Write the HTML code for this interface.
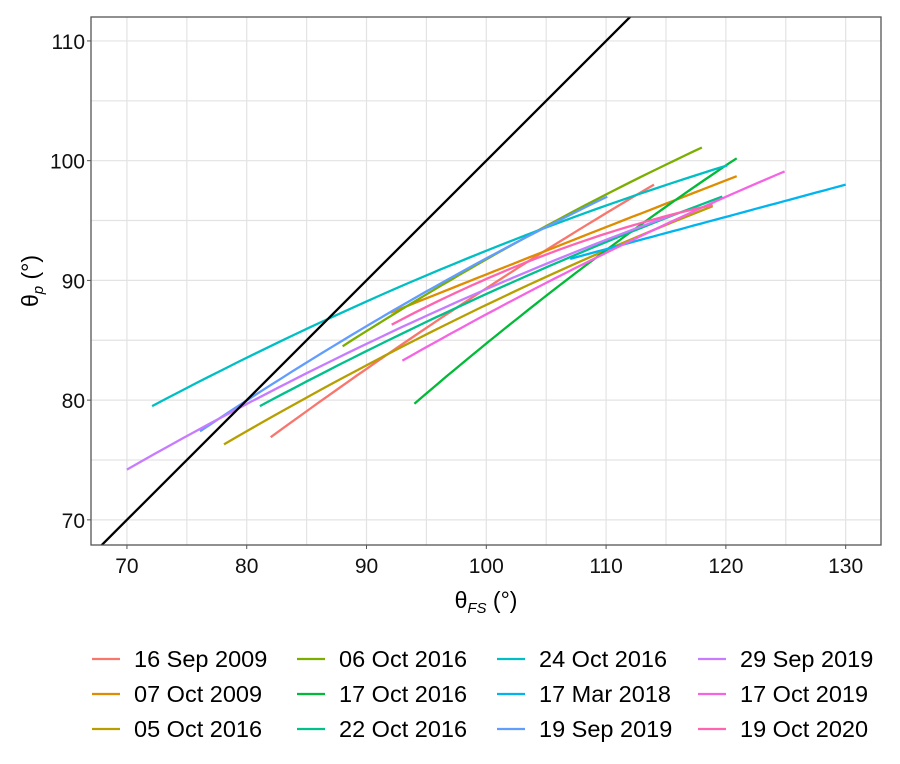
<!DOCTYPE html>
<html><head><meta charset="utf-8"><style>
body{margin:0;background:#fff;}
svg text{font-family:"Liberation Sans",sans-serif;}
</style></head><body>
<svg id="chart" width="900" height="759" viewBox="0 0 900 759" xmlns="http://www.w3.org/2000/svg">
<rect width="900" height="759" fill="#fff"/>
<g id="grid"></g>
<g id="series"></g>
<rect x="91" y="17" width="790" height="528" fill="none" stroke="#555" stroke-width="1.3"/>
<g id="axes"></g>
<text x="486" y="608" font-size="23" text-anchor="middle" fill="#000">θ<tspan font-size="15" font-style="italic" dy="5">FS</tspan><tspan dy="-5"> (°)</tspan></text>
<text transform="translate(38,281) rotate(-90)" font-size="23" text-anchor="middle" fill="#000">θ<tspan font-size="15" font-style="italic" dy="5">p</tspan><tspan dy="-5"> (°)</tspan></text>
<g id="legend"></g>
</svg>
<script>
const labels=["16 Sep 2009","07 Oct 2009","05 Oct 2016","06 Oct 2016","17 Oct 2016","22 Oct 2016","24 Oct 2016","17 Mar 2018","19 Sep 2019","29 Sep 2019","17 Oct 2019","19 Oct 2020"];
const colors=["#F8766D","#DE8C00","#B79F00","#7CAE00","#00BA38","#00C08B","#00BFC4","#00B4F0","#619CFF","#C77CFF","#F564E3","#FF64B0"];
const xStart=[82,92,78.1,88,94,81.1,72.1,107,76.1,70,93,92.1];
const xMid=[105.1,99.5,100.3,99.2,110.1,100.3,100.3,118.5,100.3,100.3,99.5,99.5];
const xEnd=[114,120.9,118.9,118,120.9,119.7,120.1,130,110.1,115.9,124.9,118.9];
const yStart=[76.9,87.3,76.3,84.5,79.7,79.5,79.5,91.8,77.4,74.2,83.3,86.3];
const yMid=[92.6,90.3,88.1,91.3,92.6,89.0,92.6,94.9,92.0,89.4,86.9,89.9];
const yEnd=[98.0,98.7,96.2,101.1,100.2,97.0,99.6,98.0,97.0,95.6,99.1,96.3];
const xTicks=[70,80,90,100,110,120,130];
const yTicks=[70,80,90,100,110];
const identityLine=[67,113];

const X0=91,X1=881,Y0=17,Y1=545;
const xMin=67.0,xMax=132.95,yMin=67.9,yMax=112.0;
const sx=v=>X0+(v-xMin)/(xMax-xMin)*(X1-X0);
const sy=v=>Y1-(v-yMin)/(yMax-yMin)*(Y1-Y0);
const NS="http://www.w3.org/2000/svg";
function mk(tag,attrs,parent){const e=document.createElementNS(NS,tag);for(const k in attrs)e.setAttribute(k,attrs[k]);parent.appendChild(e);return e;}
const grid=document.getElementById('grid'),axes=document.getElementById('axes'),ser=document.getElementById('series'),leg=document.getElementById('legend');
for(let v=70;v<=130;v+=5){const l=mk('line',{x1:sx(v),x2:sx(v),y1:Y0,y2:Y1,stroke:'#e3e3e3','stroke-width':1.2},grid);

}
for(let v=70;v<=110;v+=5){const l=mk('line',{x1:X0,x2:X1,y1:sy(v),y2:sy(v),stroke:'#e3e3e3','stroke-width':1.2},grid);

}
xTicks.forEach(v=>{mk('line',{x1:sx(v),x2:sx(v),y1:Y1,y2:Y1+4,stroke:'#555'},axes);
const t=mk('text',{x:sx(v),y:Y1+28,'font-size':21,'text-anchor':'middle',fill:'#111'},axes);t.textContent=v;

});
yTicks.forEach(v=>{mk('line',{x1:X0-4,x2:X0,y1:sy(v),y2:sy(v),stroke:'#555'},axes);
const t=mk('text',{x:X0-6,y:sy(v)+8,'font-size':21,'text-anchor':'end',fill:'#111'},axes);t.textContent=v;

});
const cp=mk('clipPath',{id:'clip'},ser);mk('rect',{x:X0,y:Y0,width:X1-X0,height:Y1-Y0},cp);
labels.forEach((lab,i)=>{
  const a=[xStart[i],xMid[i],xEnd[i]],b=[yStart[i],yMid[i],yEnd[i]];
  const f=x=>{let s=0;for(let j=0;j<3;j++){let p=b[j];for(let k=0;k<3;k++)if(k!==j)p*=(x-a[k])/(a[j]-a[k]);s+=p;}return s;};
  const pts=[];for(let n=0;n<=40;n++){const x=a[0]+(a[2]-a[0])*n/40;pts.push(sx(x).toFixed(1)+','+sy(f(x)).toFixed(1));}
  const pl=mk('polyline',{points:pts.join(' '),fill:'none',stroke:colors[i],'stroke-width':2.3},ser);
  
  
  const col=Math.floor(i/3),row=i%3;
  const lx=[92,297,497,698][col],ty=[659,694,729][row];
  const g=mk('g',{},leg);
  
  
  mk('line',{x1:lx,x2:lx+28,y1:ty,y2:ty,stroke:colors[i],'stroke-width':2.3},g);
  const t=mk('text',{x:lx+42,y:ty+8,'font-size':23.5,fill:'#000'},g);t.textContent=lab;
});
const id=mk('line',{x1:sx(identityLine[0]),y1:sy(identityLine[0]),x2:sx(identityLine[1]),y2:sy(identityLine[1]),stroke:'#000','stroke-width':2.3,'clip-path':'url(#clip)'},ser);


</script>
</body></html>
